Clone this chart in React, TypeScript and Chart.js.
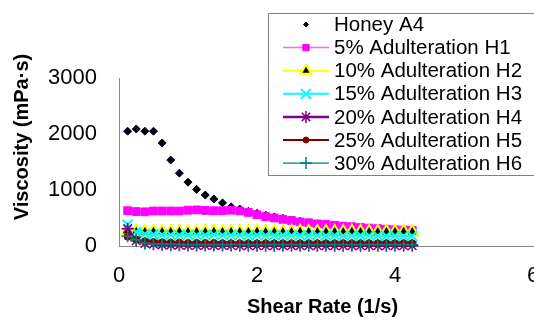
import React, { useEffect, useRef } from "react";
import { Chart, registerables } from "chart.js";
import { drawPoint } from "chart.js/helpers";

Chart.register(...registerables);

const SHEAR_RATE = [0.125, 0.25, 0.375, 0.5, 0.625, 0.75, 0.875, 1, 1.125, 1.25, 1.375, 1.5, 1.625, 1.75, 1.875, 2, 2.125, 2.25, 2.375, 2.5, 2.625, 2.75, 2.875, 3, 3.125, 3.25, 3.375, 3.5, 3.625, 3.75, 3.875, 4, 4.125, 4.25];

const HONEY_A4 = [2050, 2090, 2050, 2050, 1840, 1535, 1300, 1140, 1010, 910, 840, 770, 700, 660, 620, 585, 550, 520, 495, 465, 440, 415, 395, 375, 360, 345, 330, 320, 310, 300, 290, 280, 270, 262];
const ADULT_H1 = [630, 615, 610, 625, 625, 625, 625, 640, 645, 635, 630, 630, 640, 625, 600, 560, 525, 500, 475, 455, 430, 415, 395, 385, 370, 355, 345, 330, 320, 310, 300, 290, 285, 280];
const ADULT_H2 = [270, 255, 250, 255, 250, 250, 255, 250, 250, 250, 255, 250, 250, 250, 250, 255, 250, 250, 250, 250, 255, 250, 250, 250, 250, 250, 255, 250, 250, 250, 250, 250, 255, 250];
const ADULT_H3 = [380, 250, 215, 205, 200, 200, 195, 200, 195, 195, 200, 195, 195, 195, 190, 195, 190, 190, 195, 190, 190, 190, 190, 185, 190, 185, 185, 190, 185, 185, 180, 185, 180, 180];
const ADULT_H4 = [310, 95, 45, 30, 20, 15, 15, 10, 10, 10, 10, 10, 10, 5, 5, 5, 5, 5, 5, 5, 5, 5, 5, 5, 5, 5, 5, 5, 5, 5, 5, 5, 5, 5];
const ADULT_H5 = [165, 115, 85, 70, 65, 60, 60, 55, 55, 55, 55, 50, 50, 50, 50, 50, 50, 50, 50, 50, 50, 50, 50, 50, 50, 50, 50, 50, 50, 50, 50, 50, 50, 50];
const ADULT_H6 = [175, 110, 50, 35, 30, 30, 25, 25, 25, 25, 25, 25, 25, 25, 25, 25, 25, 25, 25, 25, 25, 25, 25, 25, 25, 25, 25, 25, 25, 25, 25, 25, 25, 25];

const SERIES_NAMES = ["Honey A4", "5% Adulteration H1", "10% Adulteration H2", "15% Adulteration H3", "20% Adulteration H4", "25% Adulteration H5", "30% Adulteration H6"];
const X_TICKS = [0, 2, 4, 6];
const Y_TICKS = [0, 1000, 2000, 3000];
const X_TITLE = "Shear Rate (1/s)";
const Y_TITLE = "Viscosity (mPa·s)";

const FONT = '"Liberation Sans", Arial, sans-serif';

const toPoints = (ys: number[]) => ys.map((y, i) => ({ x: SHEAR_RATE[i], y }));

const overlayPlugin = {
  id: "overlay",
  afterDraw(chart: any) {
    const ctx = chart.ctx as CanvasRenderingContext2D;
    // Axis titles
    ctx.save();
    ctx.font = `bold 20px ${FONT}`;
    ctx.fillStyle = "#000";
    ctx.textAlign = "center";
    ctx.textBaseline = "middle";
    ctx.fillText(X_TITLE, 322.5, 307);
    ctx.translate(22, 137);
    ctx.rotate(-Math.PI / 2);
    ctx.fillText(Y_TITLE, 0, 0);
    ctx.restore();

    // Legend box
    ctx.save();
    const bx = 268.5, by = 13.5, bw = 280, bh = 162;
    ctx.fillStyle = "#fff";
    ctx.fillRect(bx, by, bw, bh);
    ctx.strokeStyle = "#808080";
    ctx.lineWidth = 1;
    ctx.strokeRect(bx, by, bw, bh);
    const ds = chart.data.datasets;
    ds.forEach((d: any, i: number) => {
      const cy = 24.5 + i * 23.1;
      if (d.showLine !== false) {
        ctx.beginPath();
        ctx.strokeStyle = d.borderColor;
        ctx.lineWidth = d.borderWidth;
        ctx.moveTo(283, cy);
        ctx.lineTo(329, cy);
        ctx.stroke();
      }
      ctx.fillStyle = d.pointBackgroundColor;
      ctx.strokeStyle = d.pointBorderColor;
      ctx.lineWidth = d.pointBorderWidth;
      drawPoint(ctx, {
        pointStyle: d.pointStyle,
        rotation: 0,
        radius: d.legendRadius,
        borderWidth: d.pointBorderWidth,
      } as any, 306, cy);
      ctx.fillStyle = "#000";
      ctx.font = `20.5px ${FONT}`;
      ctx.textAlign = "left";
      ctx.textBaseline = "middle";
      ctx.fillText(SERIES_NAMES[i], 334, cy + 1);
    });
    ctx.restore();
  },
};

export default function App() {
  const ref = useRef<HTMLCanvasElement>(null);
  useEffect(() => {
    if (!ref.current) return;
    document.body.style.margin = "0";
    const mk = (i: number, data: number[], o: any) => ({
      label: SERIES_NAMES[i],
      data: toPoints(data),
      order: 10 - i,
      clip: false,
      showLine: true,
      ...o,
    });
    const chart = new Chart(ref.current, {
      type: "line",
      data: {
        datasets: [
          mk(0, HONEY_A4, { showLine: false, borderColor: "#000033", borderWidth: 0, pointStyle: "rectRot", pointRadius: 4, legendRadius: 2.5, pointBackgroundColor: "#000000", pointBorderColor: "#000033", pointBorderWidth: 1 }),
          mk(1, ADULT_H1, { borderColor: "#FF66FF", borderWidth: 1.5, pointStyle: "rect", pointRadius: 5.5, legendRadius: 4.5, pointBackgroundColor: "#FF00FF", pointBorderColor: "#FF00FF", pointBorderWidth: 1 }),
          mk(2, ADULT_H2, { borderColor: "#FFFF00", borderWidth: 2, pointStyle: "triangle", pointRadius: 7, legendRadius: 6, pointBackgroundColor: "#000000", pointBorderColor: "#FFFF00", pointBorderWidth: 2 }),
          mk(3, ADULT_H3, { borderColor: "#00FFFF", borderWidth: 2, pointStyle: "crossRot", pointRadius: 7, legendRadius: 7, pointBackgroundColor: "#00FFFF", pointBorderColor: "#00FFFF", pointBorderWidth: 2 }),
          mk(4, ADULT_H4, { borderColor: "#800080", borderWidth: 2.5, pointStyle: "star", pointRadius: 6, legendRadius: 6, pointBackgroundColor: "#800080", pointBorderColor: "#800080", pointBorderWidth: 1.5 }),
          mk(5, ADULT_H5, { borderColor: "#800000", borderWidth: 2, pointStyle: "circle", pointRadius: 3.5, legendRadius: 3, pointBackgroundColor: "#800000", pointBorderColor: "#800000", pointBorderWidth: 1 }),
          mk(6, ADULT_H6, { borderColor: "#008080", borderWidth: 1.2, pointStyle: "cross", pointRadius: 6, legendRadius: 6, pointBackgroundColor: "#008080", pointBorderColor: "#008080", pointBorderWidth: 1.5 }),
        ],
      },
      options: {
        responsive: false,
        animation: false,
        events: [],
        layout: { autoPadding: false, padding: { top: 78, right: 1, left: 0, bottom: 0 } },
        plugins: { legend: { display: false }, tooltip: { enabled: false } },
        scales: {
          x: {
            type: "linear",
            min: 0,
            max: 6,
            afterBuildTicks: (s: any) => { s.ticks = X_TICKS.map((v) => ({ value: v })); },
            afterFit: (s: any) => { s.height = 74; s.paddingLeft = 0; s.paddingRight = 0; },
            grid: { display: false, drawTicks: false },
            border: { display: true, color: "#888888", width: 1 },
            ticks: { color: "#000", padding: 17, font: { family: FONT, size: 22 }, maxRotation: 0, callback: (v: any) => String(v) },
          },
          y: {
            type: "linear",
            min: 0,
            max: 3000,
            afterBuildTicks: (s: any) => { s.ticks = Y_TICKS.map((v) => ({ value: v })); },
            afterFit: (s: any) => { s.width = 119; s.paddingTop = 0; s.paddingBottom = 0; },
            grid: { display: false, drawTicks: false },
            border: { display: true, color: "#888888", width: 1 },
            ticks: { color: "#000", padding: 22, font: { family: FONT, size: 22 }, callback: (v: any) => String(v) },
          },
        },
      },
      plugins: [overlayPlugin],
    } as any);
    return () => chart.destroy();
  }, []);
  return (
    <div style={{ position: "absolute", left: 0, top: 0, width: 534, height: 320, background: "#fff" }}>
      <canvas ref={ref} width={534} height={320} style={{ width: 534, height: 320 }} />
    </div>
  );
}
